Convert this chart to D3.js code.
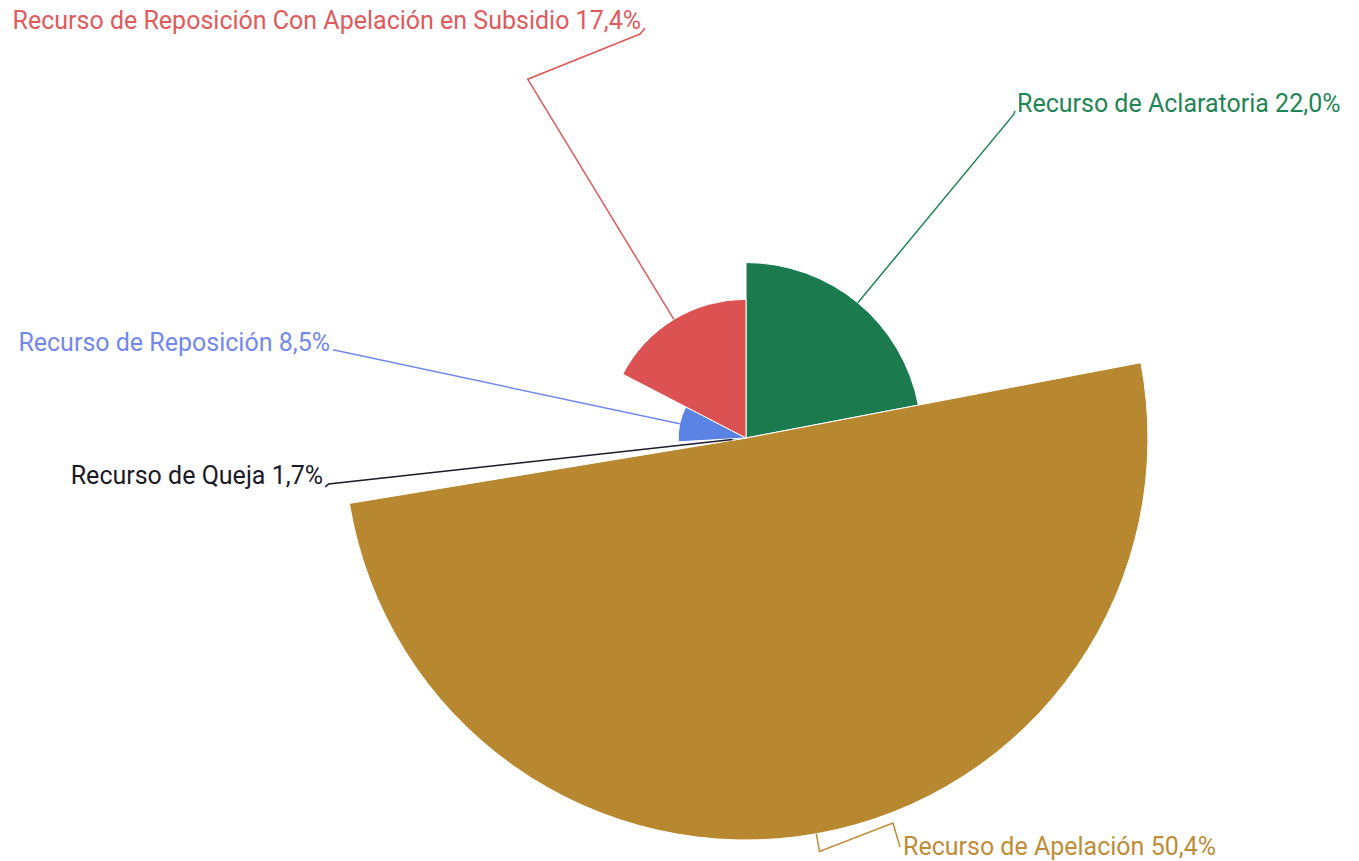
<!DOCTYPE html>
<html>
<head>
<meta charset="utf-8">
<script src="https://cdn.jsdelivr.net/npm/d3@7"></script>
<style>
  html, body { margin: 0; padding: 0; background: #ffffff; }
  svg { display: block; }
  text { font-family: Roboto, "Open Sans", sans-serif; }
</style>
</head>
<body>
<svg id="chart" width="1359" height="861"></svg>
<script>
// ---- data ----
const categories = [
  "Recurso de Aclaratoria",
  "Recurso de Apelación",
  "Recurso de Queja",
  "Recurso de Reposición",
  "Recurso de Reposición Con Apelación en Subsidio"
];
const values = [22.0, 50.4, 1.7, 8.5, 17.4];
const percentLabels = ["22,0%", "50,4%", "1,7%", "8,5%", "17,4%"];
const sliceColors = ["#1b7b4e", "#b88830", "#1c1c2a", "#5b83e3", "#dc5252"];
const labelColors = ["#1f8556", "#c08c38", "#1a1a28", "#7388ec", "#e05a5c"];

// ---- layout (positions only; y = text baseline) ----
const cx = 746, cy = 438, maxR = 402;
const labelLayout = [
  { x: 1017, y: 112, side: "left",  end: [[1015, 111]] },
  { x: 903,  y: 855, side: "left",  end: [[893, 823], [900, 847]] },
  { x: 323,  y: 484, side: "right", end: [[325, 487]] },
  { x: 330,  y: 351, side: "right", end: [[333, 350]] },
  { x: 641,  y: 29,  side: "right", end: [[640, 34], [645, 28]] }
];

const svg = d3.select("#chart");
const g = svg.append("g").attr("transform", `translate(${cx},${cy})`);

const rScale = d3.scaleLinear().domain([0, d3.max(values)]).range([0, maxR]);

const data = categories.map((c, i) => ({ name: c, value: values[i], i }));
const pie = d3.pie().sort(null).value(d => d.value).startAngle(0).endAngle(2 * Math.PI);
const arcs = pie(data);

const arcGen = d3.arc().innerRadius(0).outerRadius(d => rScale(d.data.value));

g.selectAll("path.slice")
  .data(arcs)
  .join("path")
  .attr("class", "slice")
  .attr("d", arcGen)
  .attr("fill", d => sliceColors[d.data.i])
  .attr("stroke", "#ffffff")
  .attr("stroke-width", 1);

function polar(a, r) { return [cx + r * Math.sin(a), cy - r * Math.cos(a)]; }

arcs.forEach(d => {
  const i = d.data.i;
  const mid = (d.startAngle + d.endAngle) / 2;
  const r = rScale(d.data.value);
  const pts = [polar(mid, r), polar(mid, Math.max(r + 8, 420))].concat(labelLayout[i].end);
  svg.append("path")
    .attr("d", d3.line()(pts))
    .attr("fill", "none")
    .attr("stroke", labelColors[i])
    .attr("stroke-width", 1.5);
});

arcs.forEach(d => {
  const i = d.data.i;
  const L = labelLayout[i];
  svg.append("text")
    .attr("x", L.x)
    .attr("y", L.y)
    .attr("text-anchor", L.side === "left" ? "start" : "end")
    .attr("font-size", 25)
    .attr("fill", labelColors[i])
    .text(`${categories[i]} ${percentLabels[i]}`);
});
</script>
</body>
</html>
